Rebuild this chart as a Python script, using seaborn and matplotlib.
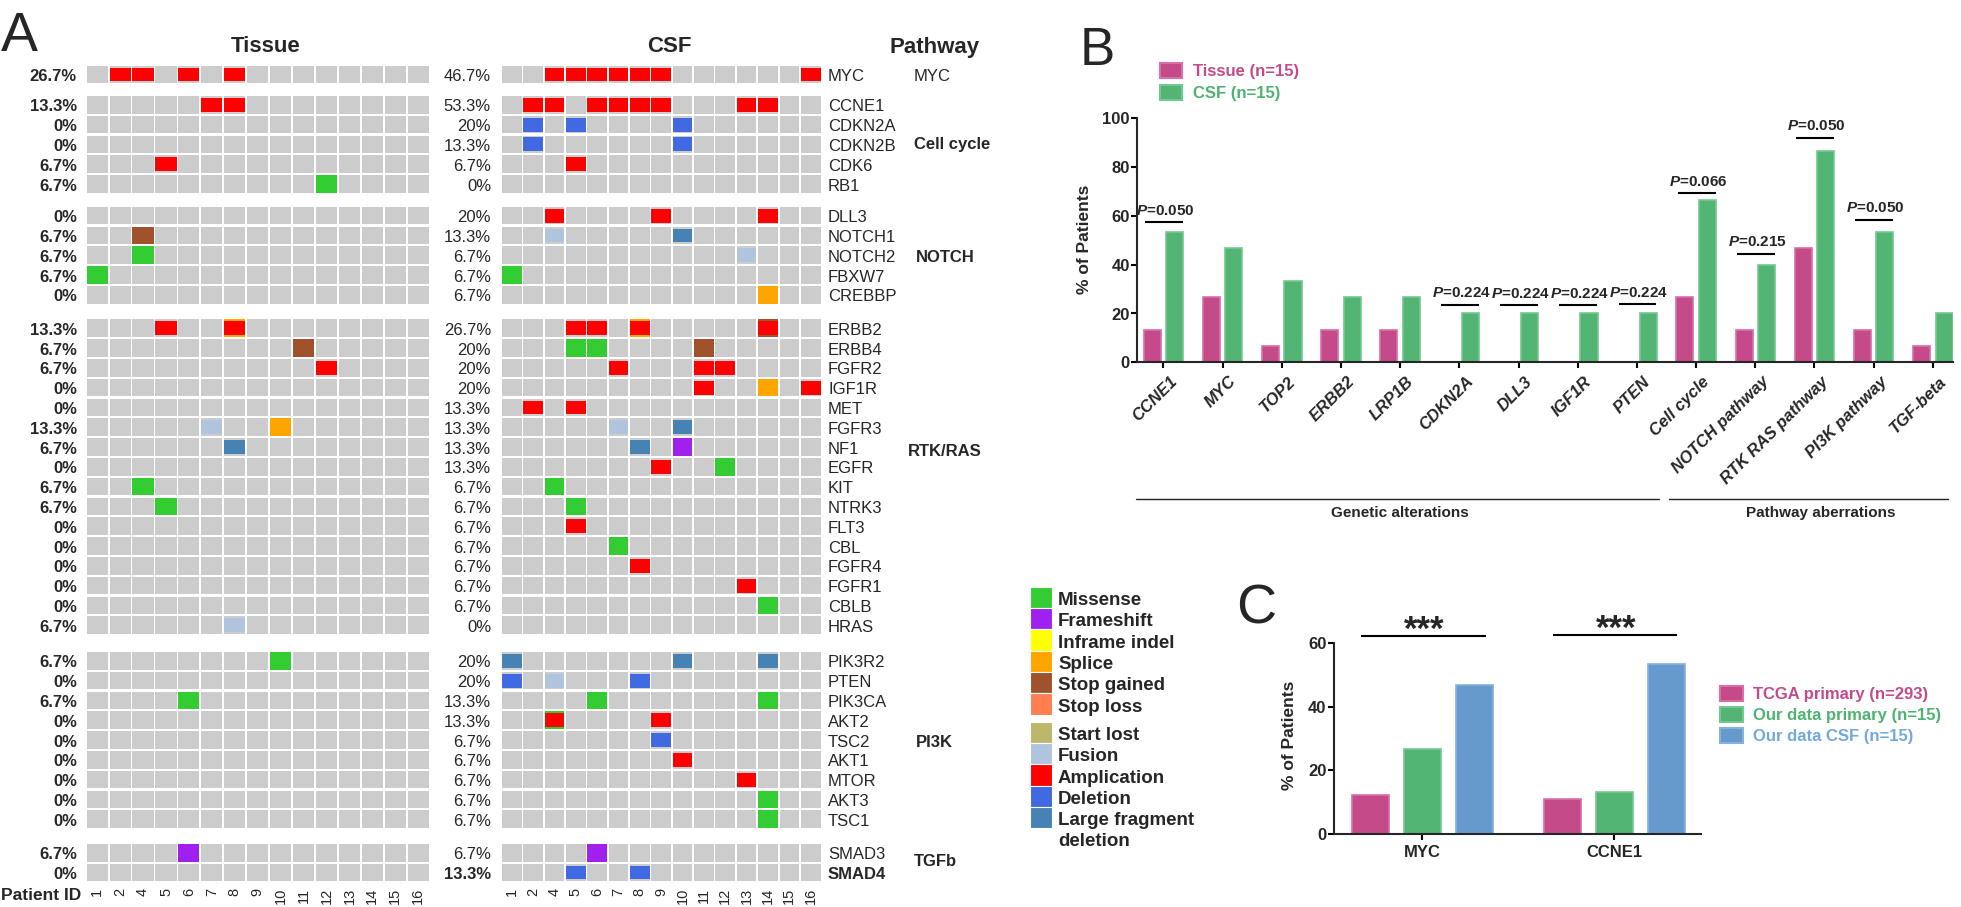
import numpy as np
import pandas as pd
import matplotlib
matplotlib.use("Agg")
import matplotlib.pyplot as plt
import matplotlib.transforms as mtrans
from matplotlib.patches import Patch
import seaborn as sns

sns.set_style("ticks")
plt.rcParams["font.family"] = ["Liberation Sans", "DejaVu Sans"]
plt.rcParams["mathtext.fontset"] = "custom"
plt.rcParams["mathtext.bfit"] = "Liberation Sans:italic:bold"
plt.rcParams["axes.linewidth"] = 1.5

W, H = 1961, 907

# ---------------- panel A: oncoprint ----------------
patients = ["1", "2", "4", "5", "6", "7", "8", "9", "10", "11", "12", "13", "14", "15", "16"]
pathways = ["MYC", "Cell cycle", "NOTCH", "RTK/RAS", "PI3K", "TGFb"]
group_sizes = [1, 5, 5, 16, 9, 2]
genes = ["MYC",
         "CCNE1", "CDKN2A", "CDKN2B", "CDK6", "RB1",
         "DLL3", "NOTCH1", "NOTCH2", "FBXW7", "CREBBP",
         "ERBB2", "ERBB4", "FGFR2", "IGF1R", "MET", "FGFR3", "NF1", "EGFR",
         "KIT", "NTRK3", "FLT3", "CBL", "FGFR4", "FGFR1", "CBLB", "HRAS",
         "PIK3R2", "PTEN", "PIK3CA", "AKT2", "TSC2", "AKT1", "MTOR", "AKT3", "TSC1",
         "SMAD3", "SMAD4"]
tissue_pct = ["26.7%",
              "13.3%", "0%", "0%", "6.7%", "6.7%",
              "0%", "6.7%", "6.7%", "6.7%", "0%",
              "13.3%", "6.7%", "6.7%", "0%", "0%", "13.3%", "6.7%", "0%",
              "6.7%", "6.7%", "0%", "0%", "0%", "0%", "0%", "6.7%",
              "6.7%", "0%", "6.7%", "0%", "0%", "0%", "0%", "0%", "0%",
              "6.7%", "0%"]
csf_pct = ["46.7%",
           "53.3%", "20%", "13.3%", "6.7%", "0%",
           "20%", "13.3%", "6.7%", "6.7%", "6.7%",
           "26.7%", "20%", "20%", "20%", "13.3%", "13.3%", "13.3%", "13.3%",
           "6.7%", "6.7%", "6.7%", "6.7%", "6.7%", "6.7%", "6.7%", "0%",
           "20%", "20%", "13.3%", "13.3%", "6.7%", "6.7%", "6.7%", "6.7%", "6.7%",
           "6.7%", "13.3%"]

# one character per patient; lower case = SNV + amplification in the same cell
tissue_calls = [
    ".AA.A.A........",
    ".....AA........", "...............", "...............", "...A...........", "..........M....",
    "...............", "..G............", "..M............", "M..............", "...............",
    "...A..p........", ".........G.....", "..........A....", "...............", "...............",
    ".....U..P......", "......X........", "...............", "..M............", "...M...........",
    "...............", "...............", "...............", "...............", "...............",
    "......U........",
    "........M......", "...............", "....M..........", "...............", "...............",
    "...............", "...............", "...............", "...............",
    "....F..........", "...............",
]
csf_calls = [
    "..AAAAAA......A",
    ".AA.AAAA...AA..", ".D.D....D......", ".D......D......", "...A...........", "...............",
    "..A....A....A..", "..U.....X......", "...........U...", "M..............", "............P..",
    "...AA.p.....g..", "...MM....G.....", ".....A...AA....", ".........A..P.A", ".A.A...........",
    ".....U..X......", "......X.F......", ".......A..M....", "..M............", "...M...........",
    "...A...........", ".....M.........", "......A........", "...........A...", "............M..",
    "...............",
    "X.......X...X..", "D.U...D........", "....M.......M..", "..m....A.......", ".......D.......",
    "........A......", "...........A...", "............M..", "............M..",
    "....F..........", "...D..D........",
]
combos = {"p": "PA", "g": "GA", "m": "MA"}

alt_labels = ["Missense", "Frameshift", "Inframe indel", "Splice", "Stop gained", "Stop loss",
              "Start lost", "Fusion", "Amplication", "Deletion", "Large fragment\ndeletion"]
alt_codes = ["M", "F", "I", "P", "G", "L", "T", "U", "A", "D", "X"]
alt_colors = ["#33CC33", "#A020F0", "#FFFF00", "#FFA500", "#A0522D", "#FF7F50",
              "#BDB76B", "#B0C4DE", "#FF0000", "#4169E1", "#4682B4"]
inset_codes = "UADX"
color_of = dict(zip(alt_codes, alt_colors))

# layout of panel A (row gaps between pathway groups, in row units)
group_gaps = [0.53, 0.60, 0.69, 0.80, 0.69]
pathway_row = [0, 1.9, 2.0, 6.1, 4.0, 0.35]
pathway_x = [914, 914, 916, 908, 916, 914]
GRAY = "#CCCCCC"
cell_w, cell_h, inset_h = 0.92, 0.89, 0.70

# ---------------- panel B ----------------
cats_b = ["CCNE1", "MYC", "TOP2", "ERBB2", "LRP1B", "CDKN2A", "DLL3", "IGF1R", "PTEN",
          "Cell cycle", "NOTCH pathway", "RTK RAS pathway", "PI3K pathway", "TGF-beta"]
b_groups = ["Tissue (n=15)", "CSF (n=15)"]
tissue_b = [13.3, 26.7, 6.7, 13.3, 13.3, 0, 0, 0, 0, 26.7, 13.3, 46.7, 13.3, 6.7]
csf_b = [53.3, 46.7, 33.3, 26.7, 26.7, 20, 20, 20, 20, 66.7, 40, 86.7, 53.3, 20]
p_cats = ["CCNE1", "CDKN2A", "DLL3", "IGF1R", "PTEN", "Cell cycle", "NOTCH pathway",
          "RTK RAS pathway", "PI3K pathway"]
p_vals = ["0.050", "0.224", "0.224", "0.224", "0.224", "0.066", "0.215", "0.050", "0.050"]
p_line = [57.3, 23.6, 23.4, 23.3, 23.7, 69.3, 44.4, 91.9, 58.3]
b_sections = ["Genetic alterations", "Pathway aberrations"]
b_section_span = [(-0.47, 8.37), (8.54, 13.25)]
b_section_mid = [4.0, 11.1]

# ---------------- panel C ----------------
genes_c = ["MYC", "CCNE1"]
c_groups = ["TCGA primary (n=293)", "Our data primary (n=15)", "Our data CSF (n=15)"]
tcga_c = [12.3, 10.9]
primary_c = [26.7, 13.3]
csf_c = [46.7, 53.3]
sig_c = ["***", "***"]
sig_line_c = [62.2, 62.5]

PINK, PINK_E = "#C44A89", "#D86FA6"
GREEN, GREEN_E = "#52B574", "#74C892"
BLUE, BLUE_E = "#6699CC", "#86B2DD"
PINK_T, GREEN_T, BLUE_T = "#C44A89", "#4DB370", "#72A8DA"


def rect(l, t, r, b):
    return [l / W, 1 - b / H, (r - l) / W, (b - t) / H]


fig = plt.figure(figsize=(W / 100, H / 100), dpi=100)

# row positions with gaps between groups
row_y = []
offset = 0.0
r = 0
group_start = []
for g, n in enumerate(group_sizes):
    if g > 0:
        offset += group_gaps[g - 1]
    group_start.append(r + offset)
    for k in range(n):
        row_y.append(r + offset)
        r += 1


def draw_onco(ax, calls):
    x = np.arange(len(patients))
    for y, row in zip(row_y, calls):
        ax.bar(x, cell_h, bottom=y - cell_h / 2, width=cell_w, color=GRAY, linewidth=0)
        for j, ch in enumerate(row):
            if ch == ".":
                continue
            codes = combos.get(ch, ch)
            for code in codes:
                h = inset_h if code in inset_codes else cell_h
                ax.bar(j, h, bottom=y - h / 2, width=cell_w, color=color_of[code], linewidth=0)
    ax.set_xlim(-0.5, len(patients) - 0.5)
    ax.set_ylim(row_y[-1] + 0.5, row_y[0] - 0.5)
    ax.set_xticks(x)
    ax.set_xticklabels(patients, rotation=90, fontsize=10.5)
    ax.tick_params(axis="x", length=0, pad=4)
    ax.set_yticks([])
    for s in ax.spines.values():
        s.set_visible(False)


ax_t = fig.add_axes(rect(85.7, 64.6, 429.7, 882.4))
ax_c = fig.add_axes(rect(501.0, 64.6, 821.4, 882.4))
draw_onco(ax_t, tissue_calls)
draw_onco(ax_c, csf_calls)

tr = mtrans.blended_transform_factory(fig.transFigure, ax_t.transData)
for y, gene, tp, cp in zip(row_y, genes, tissue_pct, csf_pct):
    bold_row = gene == "SMAD4"
    ax_t.text(77 / W, y + 0.33, tp, transform=tr, ha="right", va="baseline",
              fontsize=12, fontweight="bold")
    ax_t.text(491 / W, y + 0.33, cp, transform=tr, ha="right", va="baseline",
              fontsize=12, fontweight="bold" if bold_row else "normal")
    ax_t.text(828 / W, y + 0.33, gene, transform=tr, ha="left", va="baseline",
              fontsize=12, fontweight="bold" if bold_row else "normal")

for name, start, pr, px in zip(pathways, group_start, pathway_row, pathway_x):
    ax_t.text(px / W, start + pr + 0.33, name, transform=tr, ha="left", va="baseline",
              fontsize=12, fontweight="normal" if name == "MYC" else "bold")

fig.text(266 / W, 1 - 51.7 / H, "Tissue", ha="center", va="baseline", fontsize=16, fontweight="bold")
fig.text(669 / W, 1 - 51.7 / H, "CSF", ha="center", va="baseline", fontsize=16, fontweight="bold")
fig.text(935 / W, 1 - 53 / H, "Pathway", ha="center", va="baseline", fontsize=16, fontweight="bold")
fig.text(1 / W, 1 - 900 / H, "Patient ID", ha="left", va="baseline", fontsize=12.5, fontweight="bold")

# mutation legend
leg_ax = fig.add_axes(rect(1030, 586.85, 1052, 828.4))
leg_y = [i + (0.33 if i >= 6 else 0) for i in range(len(alt_labels))]
leg_ax.barh(leg_y, 1, height=1, left=0, color=alt_colors, edgecolor="white", linewidth=0.8)
leg_ax.set_xlim(0, 1)
leg_ax.set_ylim(leg_y[-1] + 0.5, -0.5)
leg_ax.axis("off")
for y, lab in zip(leg_y, alt_labels):
    for k, line in enumerate(lab.split("\n")):
        leg_ax.text(1 + 6 / 22, y + 0.35 + k * 0.97, line, ha="left", va="baseline",
                    fontsize=13.5, fontweight="bold")

# ---------------- panel B ----------------
axb = fig.add_axes(rect(1137, 118.3, 1953, 362.3))
df_b = pd.DataFrame({
    "gene": cats_b * 2,
    "group": [b_groups[0]] * len(cats_b) + [b_groups[1]] * len(cats_b),
    "pct": tissue_b + csf_b,
})
sns.barplot(data=df_b, x="gene", y="pct", hue="group", order=cats_b, hue_order=b_groups,
            palette=[PINK, GREEN], width=0.76, gap=0.24, saturation=1, errorbar=None,
            legend=False, ax=axb)
for cont, ec in zip(axb.containers, [PINK_E, GREEN_E]):
    for p in cont:
        p.set_edgecolor(ec)
        p.set_linewidth(1.2)
axb.set_xlim(-0.446, 13.34)
axb.set_ylim(0, 100)
axb.set_yticks(range(0, 101, 20))
axb.set_xlabel("")
axb.set_ylabel("")
sns.despine(ax=axb)
axb.tick_params(axis="both", direction="out", length=4.3, width=1.5, color="black", labelsize=12)
axb.tick_params(axis="y", pad=1)
axb.tick_params(axis="x", pad=4)
axb.set_xticks(range(len(cats_b)))
axb.set_xticklabels(cats_b, rotation=45, ha="right", rotation_mode="anchor",
                    fontstyle="italic", fontweight="bold")
shift = mtrans.ScaledTranslation(6 / 100, 0, fig.dpi_scale_trans)
for lbl in axb.get_xticklabels():
    lbl.set_transform(lbl.get_transform() + shift)
for lbl in axb.get_yticklabels():
    lbl.set_fontweight("bold")

for cat, val, ly in zip(p_cats, p_vals, p_line):
    i = cats_b.index(cat)
    axb.plot([i - 0.31, i + 0.33], [ly, ly], color="black", lw=1.5, clip_on=False,
             solid_capstyle="butt")
    axb.text(i + 0.03, ly + 3.1, r"$\mathbfit{P}$=" + val, ha="center", va="baseline",
             fontsize=11, fontweight="bold")

trb = mtrans.blended_transform_factory(axb.transData, axb.transAxes)
for lab, (x0, x1), xm in zip(b_sections, b_section_span, b_section_mid):
    axb.plot([x0, x1], [-0.56, -0.56], transform=trb, color="#222222", lw=1.0, clip_on=False)
    axb.text(xm, -0.633, lab, transform=trb, ha="center", va="baseline", fontsize=11,
             fontweight="bold")

axb.text(-0.0643, 0.505, "% of Patients", transform=axb.transAxes, rotation=90,
         ha="center", va="center", fontsize=12.5, fontweight="bold")

leg_b = axb.legend(handles=[Patch(facecolor=PINK, edgecolor=PINK_E, linewidth=1.5),
                            Patch(facecolor=GREEN, edgecolor=GREEN_E, linewidth=1.5)],
                   labels=b_groups, loc="upper left", bbox_to_anchor=(1160.4 / W, 1 - 63 / H),
                   bbox_transform=fig.transFigure, frameon=False,
                   prop={"size": 12, "weight": "bold"}, handlelength=1.32, handleheight=1.02,
                   handletextpad=0.64, labelspacing=0.33, borderpad=0, borderaxespad=0)
for t, c in zip(leg_b.get_texts(), [PINK_T, GREEN_T]):
    t.set_color(c)

# ---------------- panel C ----------------
axc = fig.add_axes(rect(1333.7, 642.7, 1701.3, 834.3))
df_c = pd.DataFrame({
    "gene": genes_c * 3,
    "group": [g for g in c_groups for _ in genes_c],
    "pct": tcga_c + primary_c + csf_c,
})
sns.barplot(data=df_c, x="gene", y="pct", hue="group", order=genes_c, hue_order=c_groups,
            palette=[PINK, GREEN, BLUE], width=0.813, gap=0.288, saturation=1, errorbar=None,
            legend=False, ax=axc)
for cont, ec in zip(axc.containers, [PINK_E, GREEN_E, BLUE_E]):
    for p in cont:
        p.set_edgecolor(ec)
        p.set_linewidth(1.2)
axc.set_xlim(-0.462, 1.455)
axc.set_ylim(0, 60)
axc.set_yticks(range(0, 61, 20))
axc.set_xlabel("")
axc.set_ylabel("")
sns.despine(ax=axc)
axc.tick_params(axis="both", direction="out", length=4.3, width=1.5, color="black", labelsize=12)
axc.tick_params(axis="y", pad=1)
axc.tick_params(axis="x", pad=3.4)
for lbl in axc.get_xticklabels() + axc.get_yticklabels():
    lbl.set_fontweight("bold")

for i, (s, ly) in enumerate(zip(sig_c, sig_line_c)):
    axc.plot([i - 0.32, i + 0.33], [ly, ly], color="black", lw=1.5, clip_on=False,
             solid_capstyle="butt")
    axc.text(i + 0.01, ly - 1.3, s, ha="center", va="baseline", fontsize=25, fontweight="bold")

axc.text(-0.119, 0.518, "% of Patients", transform=axc.transAxes, rotation=90,
         ha="center", va="center", fontsize=12.5, fontweight="bold")

leg_c = axc.legend(handles=[Patch(facecolor=PINK, edgecolor=PINK_E, linewidth=1.5),
                            Patch(facecolor=GREEN, edgecolor=GREEN_E, linewidth=1.5),
                            Patch(facecolor=BLUE, edgecolor=BLUE_E, linewidth=1.5)],
                   labels=c_groups, loc="upper left", bbox_to_anchor=(1719.5 / W, 1 - 686 / H),
                   bbox_transform=fig.transFigure, frameon=False,
                   prop={"size": 12, "weight": "bold"}, handlelength=1.38, handleheight=1.02,
                   handletextpad=0.62, labelspacing=0.29, borderpad=0, borderaxespad=0)
for t, c in zip(leg_c.get_texts(), [PINK_T, GREEN_T, BLUE_T]):
    t.set_color(c)

# panel letters
fig.text(1 / W, 1 - 51 / H, "A", fontsize=40, ha="left", va="baseline")
fig.text(1079.5 / W, 1 - 65 / H, "B", fontsize=38, ha="left", va="baseline")
fig.text(1236 / W, 1 - 623 / H, "C", fontsize=40, ha="left", va="baseline")

fig.savefig("out.png", dpi=100)
